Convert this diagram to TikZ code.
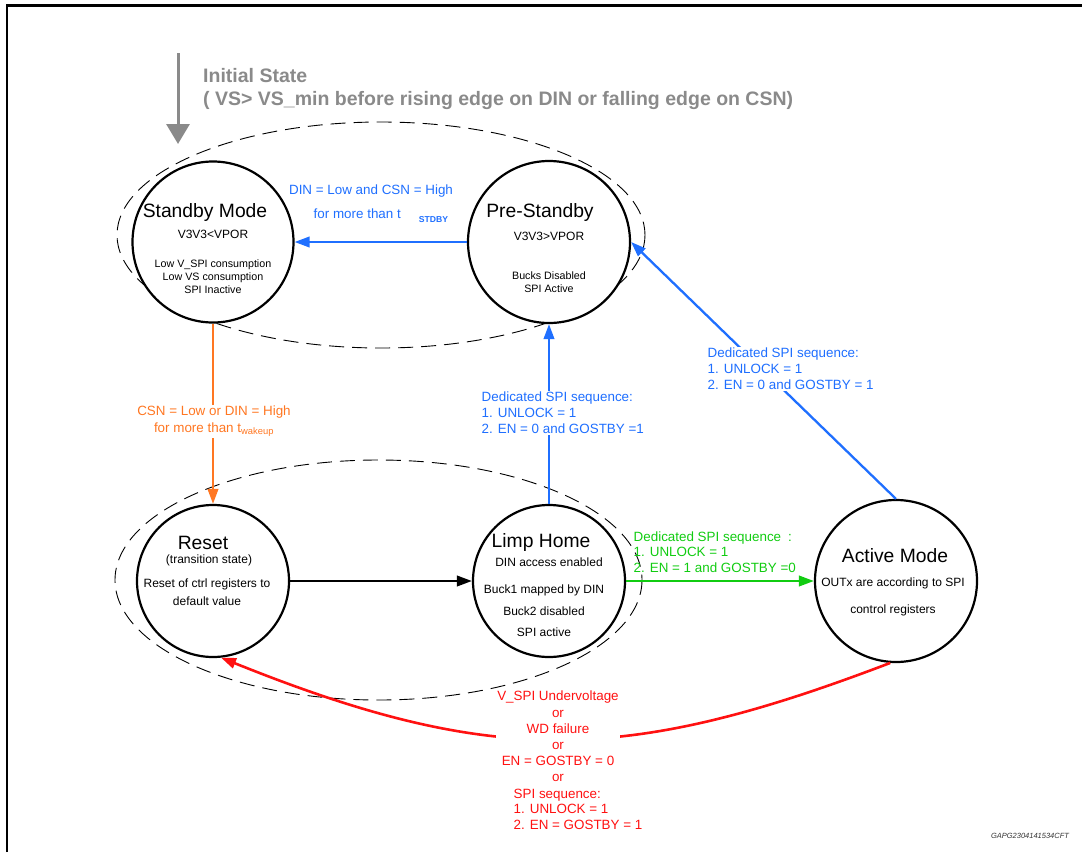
\documentclass[tikz,border=0pt]{standalone}
\usepackage{fontspec}
\setmainfont{Liberation Sans}
\usepackage{xcolor}
\usepackage{tikz}
\usetikzlibrary{arrows.meta}
\definecolor{stblue}{HTML}{1F6FFF}
\definecolor{storange}{HTML}{FF7722}
\definecolor{stgreen}{HTML}{11CC11}
\definecolor{stred}{HTML}{FF1111}
\definecolor{stgray}{HTML}{8A8A8A}

\tikzset{
  state/.style={circle, draw, line width=2.2pt, fill=white, inner sep=0pt, minimum size=#1},
  stategroup/.style={draw, dash pattern=on 15pt off 8pt, line width=0.9pt},
  trans/.style={line width=2.3pt, -{Triangle[length=15pt, width=10.5pt]}},
  statetitle/.style={inner sep=0pt, font=\fontsize{19.3}{22}\selectfont},
  statenote/.style={inner sep=0pt, align=center, font=\fontsize{12}{14}\selectfont},
  cond/.style={inner sep=1.5pt, align=left, font=\fontsize{13.4}{16}\selectfont},
}

\begin{document}
\begin{tikzpicture}[x=1pt, y=-1pt]
  \useasboundingbox (0,0) rectangle (1082,852);
  %% Frame
  \draw[line width=2.4pt] (7,852) -- (7,5.5) -- (1082,5.5);

  %% Dashed groups
  \draw[stategroup] (381,235) ellipse [x radius=264, y radius=113];
  \draw[stategroup] (378.5,580) ellipse [x radius=263.5, y radius=120];

  %% States
  \node[state=161pt] (standby) at (213,242) {};
  \node[state=162pt] (prestby) at (549,242) {};
  \node[state=152pt] (reset)   at (213,581) {};
  \node[state=152pt] (limp)    at (549,581) {};
  \node[state=162pt] (active)  at (896,581) {};

  %% State texts
  \node[statetitle] (standby-title) at (205,213) {Standby Mode};
  \node[statenote] (standby-vpor) at (213,234) {V3V3<VPOR};
  \node[statenote, font=\fontsize{10.7}{13}\selectfont] (standby-text) at (213,277)
    {Low V\_SPI consumption\\Low VS consumption\\SPI Inactive};

  \node[statetitle] (prestby-title) at (540,213) {Pre-Standby};
  \node[statenote] (prestby-vpor) at (549,236) {V3V3>VPOR};
  \node[statenote, font=\fontsize{10.7}{12.5}\selectfont] (prestby-text) at (549,282)
    {Bucks Disabled\\SPI Active};

  \node[statetitle] (reset-title) at (203,543) {Reset};
  \node[statenote] (reset-sub) at (209,560) {(transition state)};
  \node[statenote, font=\fontsize{12}{18}\selectfont] (reset-text) at (207,592)
    {Reset of ctrl registers to\\default value};

  \node[statetitle] (limp-title) at (541,543) {Limp Home};
  \node[statenote] (limp-din) at (549,562) {DIN access enabled};
  \node[statenote, font=\fontsize{12}{21.5}\selectfont] (limp-text) at (544,611)
    {Buck1 mapped by DIN\\Buck2 disabled\\SPI active};

  \node[statetitle] (active-title) at (895,556) {Active Mode};
  \node[statenote, font=\fontsize{12}{27}\selectfont] (active-text) at (893,596.5)
    {OUTx are according to SPI\\control registers};

  %% Initial state
  \coordinate (init-top) at (178,53);
  \coordinate (init-tip) at (178,144);
  \draw[stgray, line width=3pt, -{Triangle[length=20pt, width=23pt]}] (init-top) -- (init-tip);
  \node[stgray, anchor=west, align=left, inner sep=0pt,
        font=\bfseries\fontsize{19.5}{23}\selectfont] (init-text) at (203,88.5)
    {Initial State\\( VS> VS\_min before rising edge on DIN or falling edge on CSN)};

  %% Pre-Standby -> Standby
  \draw[trans, stblue] (prestby) -- (standby);
  \node[cond, stblue] (stdby-cond) at (371,191) {DIN = Low and CSN = High};
  \node[cond, stblue, anchor=base west] (stdby-time) at (312,218)
    {for more than t\hspace{18pt}\raisebox{-4.5pt}{\bfseries\fontsize{8.6}{10}\selectfont STDBY}};

  %% Standby -> Reset
  \draw[trans, storange] (standby) -- (reset);
  \node[cond, storange, fill=white, align=center, font=\fontsize{13.4}{17}\selectfont]
    (wake-cond) at (214,421.5) {CSN = Low or DIN = High\\for more than t\textsubscript{wakeup}};

  %% Reset -> Limp Home
  \draw[trans] (reset) -- (limp);

  %% Limp Home -> Pre-Standby
  \draw[trans, stblue] (limp) -- (prestby);
  \node[cond, stblue, fill=white, anchor=west] (limp-cond) at (480,413)
    {Dedicated SPI sequence:\\1. UNLOCK = 1\\2. EN = 0 and GOSTBY =1};

  %% Limp Home -> Active Mode
  \draw[trans, stgreen] (limp) -- (active);
  \node[cond, stgreen, anchor=west, font=\fontsize{13.4}{15.5}\selectfont] (active-cond) at (632,552)
    {Dedicated SPI sequence\hspace{7pt}:\\1. UNLOCK = 1\\2. EN = 1 and GOSTBY =0};

  %% Active Mode -> Pre-Standby
  \draw[trans, stblue] (active.north) -- (prestby.east);
  \node[cond, stblue, fill=white, anchor=west] (back-cond) at (706,369)
    {Dedicated SPI sequence:\\1. UNLOCK = 1\\2. EN = 0 and GOSTBY = 1};

  %% Failures back to Reset
  \draw[trans, stred, line width=2.6pt] (active.-94) .. controls (628,763) and (495,768) .. (reset.-84);
  \node[cond, stred, fill=white, align=center, font=\fontsize{13.4}{16.2}\selectfont]
    (fail-cond) at (558,736.5) {V\_SPI Undervoltage\\or\\WD failure\\or\\EN = GOSTBY = 0\\or};
  \node[cond, stred, anchor=west, font=\fontsize{13.4}{15.5}\selectfont] (fail-seq) at (512,809)
    {SPI sequence:\\1. UNLOCK = 1\\2. EN = GOSTBY = 1};

  %% Document id
  \node[inner sep=0pt, text=black!80, font=\itshape\fontsize{7.5}{9}\selectfont] (doc-id) at (1030,836)
    {GAPG2304141534CFT};
\end{tikzpicture}
\end{document}
